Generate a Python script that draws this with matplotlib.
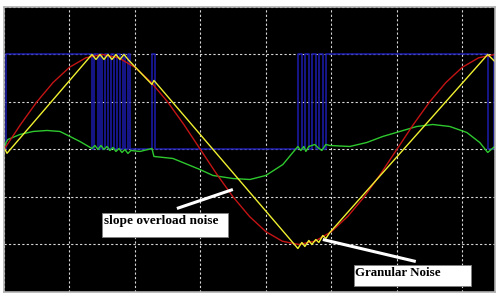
import matplotlib
matplotlib.use("Agg")
import matplotlib.pyplot as plt
from matplotlib.patches import Rectangle

# x in grid divisions (0..7.5), y in grid divisions (-3..3)
sine_x = [0, 0.25, 0.5, 0.75, 1.0, 1.25, 1.5, 1.75, 2.0, 2.25, 2.5, 2.75, 3.0,
          3.25, 3.5, 3.75, 4.0, 4.25, 4.5, 4.75, 5.0, 5.25, 5.5, 5.75, 6.0,
          6.25, 6.5, 6.75, 7.0, 7.25, 7.5]
sine_y = [0, 0.52, 1.0, 1.41, 1.73, 1.93, 2.0, 1.93, 1.73, 1.41, 1.0, 0.52, 0,
          -0.52, -1.0, -1.41, -1.73, -1.93, -2.0, -1.93, -1.73, -1.41, -1.0, -0.52, 0,
          0.52, 1.0, 1.41, 1.73, 1.93, 2.0]

stair_x = [0, 0.046, 1.344, 1.405, 1.466, 1.527, 1.588, 1.649, 1.710, 1.771, 1.832,
           1.908, 2.260, 2.290, 4.489, 4.550, 4.595, 4.656, 4.702, 4.763, 4.809,
           4.870, 4.916, 4.977, 7.389, 7.496]
stair_y = [0.04, -0.08, 2.0, 1.895, 2.0, 1.895, 2.0, 1.895, 2.0, 1.895, 2.0,
           1.874, 1.368, 1.453, -2.084, -1.958, -2.042, -1.916, -2.0, -1.895, -1.958,
           -1.811, -1.874, -1.747, 2.0, 1.853]

bits_x = [0, 0.031, 1.344, 1.374, 1.435, 1.466, 1.496, 1.542, 1.588, 1.634, 1.679,
          1.725, 1.771, 1.817, 1.847, 1.893, 1.924, 2.260, 2.305, 4.489, 4.550,
          4.595, 4.656, 4.702, 4.763, 4.809, 4.870, 4.916, 7.389, 7.481, 7.5]
bits_y = [0, 2, 0, 2, 0, 2, 0, 2, 0, 2, 0,
          2, 0, 2, 0, 2, 0, 2, 0, 2, 0,
          2, 0, 2, 0, 2, 0, 2, 0, 2, 2]

err_x = [0, 0.031, 0.061, 0.244, 0.443, 0.656, 0.855, 1.008, 1.160, 1.344,
         1.389, 1.435, 1.481, 1.527, 1.573, 1.618, 1.664, 1.710, 1.756, 1.802,
         1.847, 1.893, 1.939, 2.076, 2.260, 2.290, 2.580, 2.992, 3.191, 3.496,
         3.756, 4.0, 4.260, 4.412, 4.489, 4.534, 4.580, 4.611, 4.656, 4.702,
         4.748, 4.794, 4.855, 4.916, 4.977, 5.282, 5.542, 5.786, 6.046, 6.305,
         6.550, 6.809, 7.069, 7.267, 7.389, 7.496]
err_y = [0, 0.147, 0.211, 0.316, 0.379, 0.4, 0.379, 0.274, 0.168, 0.021,
         0.084, 0, 0.084, 0, 0.063, -0.021, 0.042, -0.042, 0.021, -0.063,
         0, -0.084, -0.021, -0.042, 0.021, -0.147, -0.189, -0.421, -0.547, -0.611,
         -0.632, -0.547, -0.316, -0.063, 0.063, -0.021, 0.063, -0.042, 0.063, 0.084,
         0.105, 0.042, -0.021, 0.105, 0.084, 0.063, 0.147, 0.274, 0.379, 0.484,
         0.526, 0.484, 0.358, 0.147, -0.063, 0.063]

fig = plt.figure(figsize=(5, 2.96), dpi=100, facecolor="white")
ax = fig.add_axes([0.008, 0.0135, 0.982, 0.963])
ax.set_facecolor("black")
ax.set_xlim(0, 7.5)
ax.set_ylim(-3, 3)
ax.set_xticks(range(0, 8))
ax.set_yticks(range(-3, 4))
ax.tick_params(length=0, labelbottom=False, labelleft=False)
ax.set_axisbelow(True)
ax.grid(True, color="#d8d8d8", linestyle=(0, (2, 2)), linewidth=0.8)
for s in ax.spines.values():
    s.set_color("#b0b0b0")
    s.set_linewidth(1.2)

ax.step(bits_x, bits_y, where="post", color="#1c1cb0", linewidth=1.1)
ax.plot(err_x, err_y, color="#2ec82e", linewidth=1.0)
ax.plot(sine_x, sine_y, color="#c41414", linewidth=1.0)
ax.plot(stair_x, stair_y, color="#f0f030", linewidth=1.0)

# annotations
ax.add_patch(Rectangle((1.496, -1.832), 1.924, 0.485, facecolor="white",
                       edgecolor="#808080", linewidth=0.6, zorder=5))
ax.text(1.527, -1.50, "slope overload noise", family="Liberation Serif",
        fontweight="bold", fontsize=9.6, color="black", va="center", ha="left", zorder=6)
ax.plot([2.641, 3.496], [-1.242, -0.842], color="white", linewidth=2.2,
        solid_capstyle="butt", zorder=6)

ax.add_patch(Rectangle((5.344, -2.884), 1.786, 0.442, facecolor="white",
                       edgecolor="#808080", linewidth=0.6, zorder=5))
ax.text(5.359, -2.59, "Granular Noise", family="Liberation Serif",
        fontweight="bold", fontsize=9.4, color="black", va="center", ha="left", zorder=6)
ax.plot([4.870, 6.290], [-1.895, -2.358], color="white", linewidth=2.2,
        solid_capstyle="butt", zorder=6)

fig.savefig("out.png", dpi=100, facecolor="white")
